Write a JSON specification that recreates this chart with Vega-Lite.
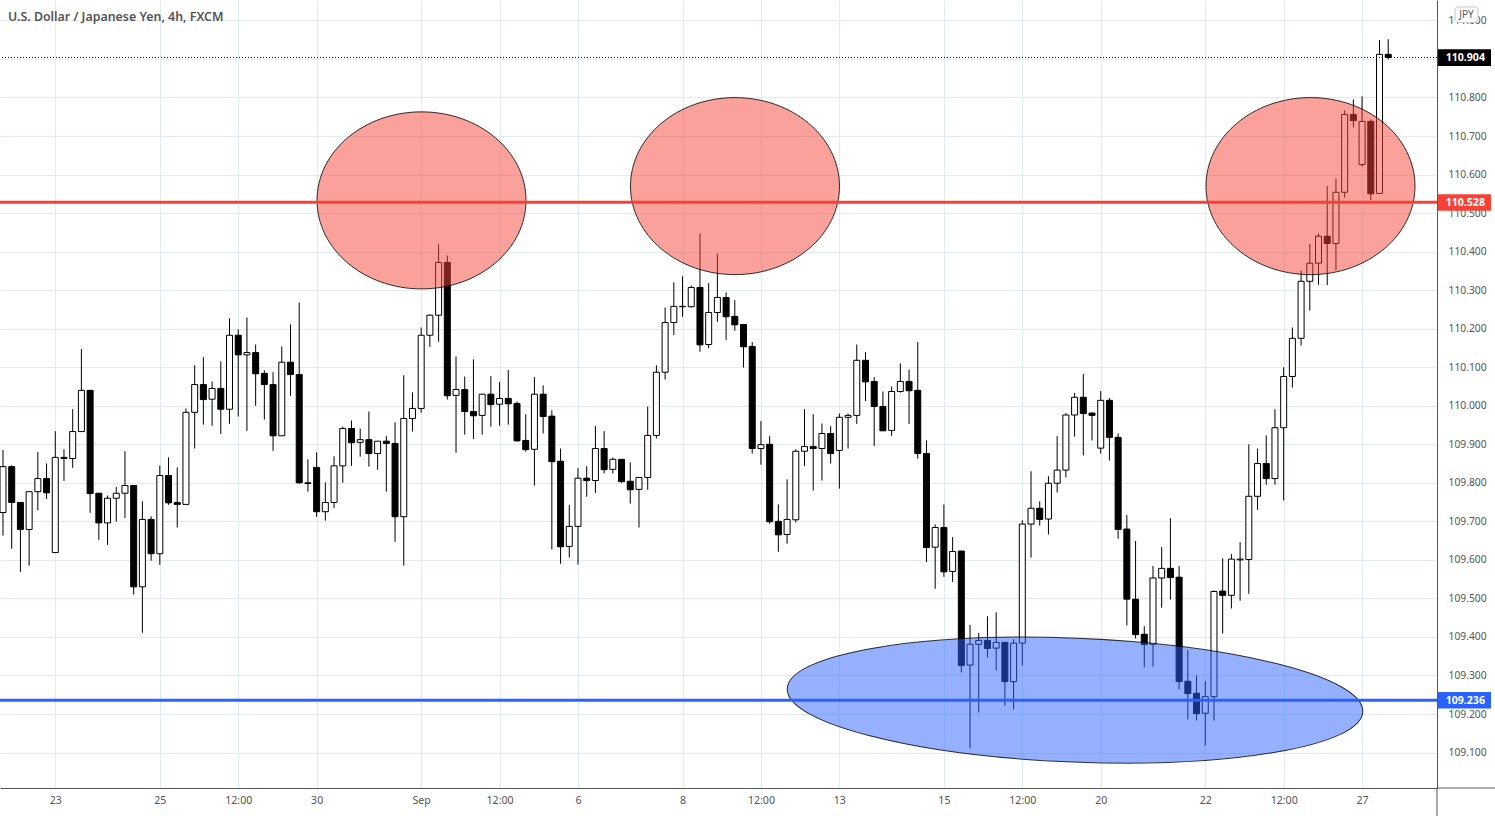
{"$schema":"https://vega.github.io/schema/vega-lite/v6.json","width":1437,"height":788,"autosize":"none","padding":{"left":0,"top":0,"right":58,"bottom":28},"background":"#ffffff","config":{"view":{"stroke":null},"font":"Noto Sans"},
"title":{"text":"U.S. Dollar / Japanese Yen, 4h, FXCM","anchor":"start","frame":"group","offset":-23,"dx":8,"fontSize":12.4,"fontWeight":600,"color":"#555555","font":"Noto Sans"},
"datasets":{"candles":[
{"i":0,"o":109.723,"h":109.885,"l":109.663,"c":109.842},{"i":1,"o":109.842,"h":109.845,"l":109.629,"c":109.749},{"i":2,"o":109.749,"h":109.749,"l":109.569,"c":109.679},{"i":3,"o":109.679,"h":109.777,"l":109.585,"c":109.777},{"i":4,"o":109.777,"h":109.880,"l":109.729,"c":109.811},{"i":5,"o":109.811,"h":109.850,"l":109.758,"c":109.774},{"i":6,"o":109.619,"h":109.934,"l":109.619,"c":109.866},{"i":7,"o":109.866,"h":109.887,"l":109.805,"c":109.863},{"i":8,"o":109.863,"h":109.991,"l":109.839,"c":109.933},{"i":9,"o":109.933,"h":110.147,"l":109.933,"c":110.040},
{"i":10,"o":110.040,"h":110.040,"l":109.722,"c":109.772},{"i":11,"o":109.773,"h":109.773,"l":109.652,"c":109.696},{"i":12,"o":109.696,"h":109.767,"l":109.639,"c":109.760},{"i":13,"o":109.760,"h":109.789,"l":109.699,"c":109.773},{"i":14,"o":109.773,"h":109.882,"l":109.709,"c":109.793},{"i":15,"o":109.793,"h":109.793,"l":109.510,"c":109.530},{"i":16,"o":109.530,"h":109.752,"l":109.411,"c":109.705},{"i":17,"o":109.705,"h":109.713,"l":109.598,"c":109.616},{"i":18,"o":109.616,"h":109.845,"l":109.587,"c":109.819},{"i":19,"o":109.819,"h":109.866,"l":109.743,"c":109.748},
{"i":20,"o":109.749,"h":109.840,"l":109.684,"c":109.744},{"i":21,"o":109.744,"h":109.993,"l":109.744,"c":109.983},{"i":22,"o":109.983,"h":110.105,"l":109.889,"c":110.055},{"i":23,"o":110.055,"h":110.126,"l":109.951,"c":110.016},{"i":24,"o":110.017,"h":110.063,"l":109.948,"c":110.045},{"i":25,"o":110.045,"h":110.115,"l":109.927,"c":109.991},{"i":26,"o":109.991,"h":110.227,"l":109.953,"c":110.183},{"i":27,"o":110.183,"h":110.198,"l":109.972,"c":110.132},{"i":28,"o":110.132,"h":110.229,"l":109.935,"c":110.138},{"i":29,"o":110.138,"h":110.159,"l":110.000,"c":110.083},
{"i":30,"o":110.084,"h":110.092,"l":109.964,"c":110.055},{"i":31,"o":110.055,"h":110.087,"l":109.883,"c":109.922},{"i":32,"o":109.922,"h":110.154,"l":109.922,"c":110.113},{"i":33,"o":110.113,"h":110.211,"l":110.026,"c":110.081},{"i":34,"o":110.081,"h":110.268,"l":109.798,"c":109.800},{"i":35,"o":109.800,"h":109.861,"l":109.777,"c":109.798},{"i":36,"o":109.840,"h":109.879,"l":109.712,"c":109.725},{"i":37,"o":109.725,"h":109.801,"l":109.702,"c":109.749},{"i":38,"o":109.749,"h":109.869,"l":109.735,"c":109.844},{"i":39,"o":109.844,"h":109.946,"l":109.800,"c":109.941},
{"i":40,"o":109.941,"h":109.962,"l":109.844,"c":109.904},{"i":41,"o":109.905,"h":109.941,"l":109.868,"c":109.912},{"i":42,"o":109.912,"h":109.985,"l":109.842,"c":109.876},{"i":43,"o":109.876,"h":109.908,"l":109.834,"c":109.908},{"i":44,"o":109.908,"h":109.921,"l":109.777,"c":109.902},{"i":45,"o":109.902,"h":109.957,"l":109.647,"c":109.712},{"i":46,"o":109.712,"h":110.079,"l":109.585,"c":109.967},{"i":47,"o":109.967,"h":110.035,"l":109.933,"c":109.993},{"i":48,"o":109.993,"h":110.203,"l":109.982,"c":110.183},{"i":49,"o":110.183,"h":110.237,"l":110.153,"c":110.235},
{"i":50,"o":110.235,"h":110.419,"l":110.166,"c":110.372},{"i":51,"o":110.372,"h":110.390,"l":110.016,"c":110.026},{"i":52,"o":110.027,"h":110.128,"l":109.878,"c":110.042},{"i":53,"o":110.042,"h":110.076,"l":109.925,"c":109.985},{"i":54,"o":109.985,"h":110.120,"l":109.914,"c":109.974},{"i":55,"o":109.975,"h":110.030,"l":109.925,"c":110.030},{"i":56,"o":110.030,"h":110.077,"l":109.946,"c":110.003},{"i":57,"o":110.004,"h":110.062,"l":109.948,"c":110.019},{"i":58,"o":110.019,"h":110.093,"l":109.951,"c":110.005},{"i":59,"o":110.006,"h":110.011,"l":109.907,"c":109.909},
{"i":60,"o":109.910,"h":109.978,"l":109.881,"c":109.886},{"i":61,"o":109.887,"h":110.074,"l":109.793,"c":110.030},{"i":62,"o":110.030,"h":110.053,"l":109.928,"c":109.972},{"i":63,"o":109.973,"h":109.988,"l":109.627,"c":109.855},{"i":64,"o":109.856,"h":109.889,"l":109.590,"c":109.634},{"i":65,"o":109.635,"h":109.742,"l":109.606,"c":109.687},{"i":66,"o":109.687,"h":109.838,"l":109.588,"c":109.812},{"i":67,"o":109.812,"h":109.843,"l":109.764,"c":109.806},{"i":68,"o":109.806,"h":109.947,"l":109.774,"c":109.889},{"i":69,"o":109.889,"h":109.934,"l":109.824,"c":109.834},
{"i":70,"o":109.835,"h":109.866,"l":109.824,"c":109.861},{"i":71,"o":109.861,"h":109.861,"l":109.799,"c":109.803},{"i":72,"o":109.804,"h":109.853,"l":109.746,"c":109.782},{"i":73,"o":109.783,"h":109.814,"l":109.684,"c":109.814},{"i":74,"o":109.814,"h":109.998,"l":109.782,"c":109.923},{"i":75,"o":109.923,"h":110.105,"l":109.915,"c":110.087},{"i":76,"o":110.087,"h":110.255,"l":110.068,"c":110.216},{"i":77,"o":110.216,"h":110.320,"l":110.184,"c":110.258},{"i":78,"o":110.257,"h":110.336,"l":110.231,"c":110.258},{"i":79,"o":110.257,"h":110.312,"l":110.255,"c":110.307},
{"i":80,"o":110.307,"h":110.447,"l":110.140,"c":110.158},{"i":81,"o":110.159,"h":110.318,"l":110.149,"c":110.242},{"i":82,"o":110.242,"h":110.395,"l":110.218,"c":110.281},{"i":83,"o":110.281,"h":110.294,"l":110.171,"c":110.231},{"i":84,"o":110.232,"h":110.274,"l":110.195,"c":110.210},{"i":85,"o":110.211,"h":110.211,"l":110.099,"c":110.153},{"i":86,"o":110.154,"h":110.165,"l":109.876,"c":109.889},{"i":87,"o":109.889,"h":109.960,"l":109.847,"c":109.899},{"i":88,"o":109.900,"h":109.921,"l":109.694,"c":109.699},{"i":89,"o":109.700,"h":109.744,"l":109.621,"c":109.665},
{"i":90,"o":109.666,"h":109.809,"l":109.642,"c":109.705},{"i":91,"o":109.704,"h":109.887,"l":109.697,"c":109.882},{"i":92,"o":109.882,"h":109.991,"l":109.844,"c":109.894},{"i":93,"o":109.894,"h":109.978,"l":109.780,"c":109.889},{"i":94,"o":109.889,"h":109.954,"l":109.806,"c":109.928},{"i":95,"o":109.928,"h":109.947,"l":109.850,"c":109.876},{"i":96,"o":109.884,"h":109.980,"l":109.785,"c":109.970},{"i":97,"o":109.970,"h":109.980,"l":109.889,"c":109.975},{"i":98,"o":109.975,"h":110.159,"l":109.953,"c":110.118},{"i":99,"o":110.118,"h":110.139,"l":110.012,"c":110.062},
{"i":100,"o":110.063,"h":110.074,"l":109.896,"c":109.998},{"i":101,"o":109.998,"h":110.037,"l":109.935,"c":109.935},{"i":102,"o":109.936,"h":110.050,"l":109.922,"c":110.037},{"i":103,"o":110.037,"h":110.110,"l":110.034,"c":110.063},{"i":104,"o":110.063,"h":110.094,"l":109.953,"c":110.039},{"i":105,"o":110.040,"h":110.165,"l":109.863,"c":109.876},{"i":106,"o":109.876,"h":109.910,"l":109.595,"c":109.632},{"i":107,"o":109.633,"h":109.692,"l":109.525,"c":109.684},{"i":108,"o":109.684,"h":109.744,"l":109.556,"c":109.569},{"i":109,"o":109.570,"h":109.659,"l":109.543,"c":109.622},
{"i":110,"o":109.623,"h":109.623,"l":109.308,"c":109.326},{"i":111,"o":109.327,"h":109.431,"l":109.111,"c":109.381},{"i":112,"o":109.381,"h":109.410,"l":109.204,"c":109.391},{"i":113,"o":109.391,"h":109.454,"l":109.347,"c":109.370},{"i":114,"o":109.371,"h":109.464,"l":109.313,"c":109.386},{"i":115,"o":109.386,"h":109.386,"l":109.222,"c":109.284},{"i":116,"o":109.284,"h":109.394,"l":109.212,"c":109.384},{"i":117,"o":109.384,"h":109.703,"l":109.326,"c":109.693},{"i":118,"o":109.693,"h":109.830,"l":109.606,"c":109.734},{"i":119,"o":109.734,"h":109.752,"l":109.689,"c":109.705},
{"i":120,"o":109.706,"h":109.817,"l":109.666,"c":109.799},{"i":121,"o":109.799,"h":109.921,"l":109.775,"c":109.833},{"i":122,"o":109.833,"h":109.981,"l":109.814,"c":109.976},{"i":123,"o":109.976,"h":110.033,"l":109.920,"c":110.022},{"i":124,"o":110.022,"h":110.082,"l":109.871,"c":109.980},{"i":125,"o":109.981,"h":109.983,"l":109.910,"c":109.975},{"i":126,"o":109.890,"h":110.038,"l":109.876,"c":110.014},{"i":127,"o":110.014,"h":110.020,"l":109.858,"c":109.918},{"i":128,"o":109.918,"h":109.928,"l":109.655,"c":109.679},{"i":129,"o":109.680,"h":109.716,"l":109.430,"c":109.498},
{"i":130,"o":109.498,"h":109.649,"l":109.396,"c":109.406},{"i":131,"o":109.407,"h":109.428,"l":109.321,"c":109.380},{"i":132,"o":109.381,"h":109.584,"l":109.323,"c":109.553},{"i":133,"o":109.553,"h":109.633,"l":109.476,"c":109.578},{"i":134,"o":109.578,"h":109.708,"l":109.497,"c":109.554},{"i":135,"o":109.555,"h":109.584,"l":109.264,"c":109.284},{"i":136,"o":109.285,"h":109.366,"l":109.186,"c":109.253},{"i":137,"o":109.254,"h":109.300,"l":109.183,"c":109.201},{"i":138,"o":109.202,"h":109.285,"l":109.118,"c":109.245},{"i":139,"o":109.245,"h":109.521,"l":109.183,"c":109.518},
{"i":140,"o":109.519,"h":109.604,"l":109.409,"c":109.508},{"i":141,"o":109.508,"h":109.615,"l":109.474,"c":109.602},{"i":142,"o":109.600,"h":109.646,"l":109.494,"c":109.602},{"i":143,"o":109.601,"h":109.900,"l":109.512,"c":109.765},{"i":144,"o":109.765,"h":109.889,"l":109.730,"c":109.850},{"i":145,"o":109.850,"h":109.923,"l":109.795,"c":109.811},{"i":146,"o":109.811,"h":109.991,"l":109.795,"c":109.943},{"i":147,"o":109.943,"h":110.100,"l":109.754,"c":110.076},{"i":148,"o":110.076,"h":110.203,"l":110.047,"c":110.175},{"i":149,"o":110.175,"h":110.351,"l":110.156,"c":110.323},
{"i":150,"o":110.323,"h":110.420,"l":110.247,"c":110.370},{"i":151,"o":110.370,"h":110.447,"l":110.314,"c":110.440},{"i":152,"o":110.440,"h":110.570,"l":110.313,"c":110.421},{"i":153,"o":110.421,"h":110.590,"l":110.352,"c":110.554},{"i":154,"o":110.554,"h":110.767,"l":110.540,"c":110.756},{"i":155,"o":110.756,"h":110.795,"l":110.722,"c":110.740},{"i":156,"o":110.626,"h":110.803,"l":110.620,"c":110.738},{"i":157,"o":110.738,"h":110.743,"l":110.534,"c":110.550},{"i":158,"o":110.551,"h":110.949,"l":110.551,"c":110.912},{"i":159,"o":110.912,"h":110.951,"l":110.899,"c":110.904}
]},
"layer":[
{"data":{"name":"candles"},"mark":{"type":"rule","color":"#000000","strokeWidth":1},"encoding":{
"x":{"field":"i","type":"quantitative","title":null,"scale":{"domain":[-0.344,164.6],"nice":false,"zero":false,"padding":0},"axis":{"values":[6,18,27,36,48,57,66,78,87,96,108,117,126,138,147,156],"labelExpr":"{6:'23',18:'25',27:'12:00',36:'30',48:'Sep',57:'12:00',66:'6',78:'8',87:'12:00',96:'13',108:'15',117:'12:00',126:'20',138:'22',147:'12:00',156:'27'}[datum.value]","grid":true,"gridColor":"#e1ecf2","gridWidth":1,"tickSize":0,"labelPadding":7,"labelFontSize":10.6,"labelColor":"#555555","labelFont":"Noto Sans","domainColor":"#555555","domainWidth":1,"labelFlush":false,"labelOverlap":false}},
"y":{"field":"l","type":"quantitative","title":null,"scale":{"domain":[109.008,111.053],"nice":false,"zero":false},"axis":{"orient":"right","values":[109.1,109.2,109.3,109.4,109.5,109.6,109.7,109.8,109.9,110.0,110.1,110.2,110.3,110.4,110.5,110.6,110.7,110.8,110.9,111.0],"format":".3f","grid":true,"gridColor":"#e1ecf2","gridWidth":1,"tickSize":0,"labelPadding":11,"labelFontSize":10.3,"labelColor":"#555555","labelFont":"Noto Sans","domainColor":"#555555","domainWidth":1,"labelOverlap":false}},
"y2":{"field":"h"}}},
{"data":{"name":"candles"},"mark":{"type":"bar","size":6,"stroke":"#000000","strokeWidth":1},"encoding":{
"x":{"field":"i","type":"quantitative","title":null},
"y":{"field":"o","type":"quantitative","title":null},
"y2":{"field":"c"},
"fill":{"condition":{"test":"datum.c>=datum.o","value":"#ffffff"},"value":"#000000"}}},
{"data":{"values":[{"i":48.04,"p":110.533,"name":"resistance 1"},{"i":84.02,"p":110.570,"name":"resistance 2"},{"i":150.08,"p":110.570,"name":"resistance 3"}]},"mark":{"type":"point","filled":true,"shape":"M-1,0C-1,-.468,-.5523,-.847,0,-.847C.5523,-.847,1,-.468,1,0C1,.468,.5523,.847,0,.847C-.5523,.847,-1,.468,-1,0Z","size":43681,"fill":"#F44336","fillOpacity":0.5,"stroke":"#000000","strokeWidth":1,"strokeOpacity":0.8,"opacity":1},"encoding":{"x":{"field":"i","type":"quantitative","title":null},"y":{"field":"p","type":"quantitative","title":null}}},
{"data":{"values":[{"i":123.05,"p":109.236,"name":"support"}]},"mark":{"type":"point","filled":true,"shape":"M-1,0C-1,-.1187,-.5523,-.215,0,-.215C.5523,-.215,1,-.1187,1,0C1,.1187,.5523,.215,0,.215C-.5523,.215,-1,.1187,-1,0Z","size":331776,"angle":2.3,"fill":"#2962FF","fillOpacity":0.5,"stroke":"#000000","strokeWidth":1,"strokeOpacity":0.8,"opacity":1},"encoding":{"x":{"field":"i","type":"quantitative","title":null},"y":{"field":"p","type":"quantitative","title":null}}},
{"data":{"values":[{"p":110.528,"col":"#F44336"},{"p":109.236,"col":"#2962FF"}]},"mark":{"type":"rule","strokeWidth":3},"encoding":{"y":{"field":"p","type":"quantitative","title":null},"color":{"field":"col","type":"nominal","scale":null}}},
{"data":{"values":[{"p":110.904}]},"mark":{"type":"rule","strokeWidth":1,"color":"#000000","strokeDash":[1,2]},"encoding":{"y":{"field":"p","type":"quantitative","title":null}}},
{"data":{"values":[{"a":164.6,"b":171.3,"p":109.008}]},"mark":{"type":"rule","strokeWidth":1,"color":"#555555"},"encoding":{"x":{"field":"a","type":"quantitative","title":null},"x2":{"field":"b"},"y":{"field":"p","type":"quantitative","title":null}}},
{"data":{"values":[{"a":164.6,"p":109.008,"q":108.935}]},"mark":{"type":"rule","strokeWidth":1,"color":"#555555"},"encoding":{"x":{"field":"a","type":"quantitative","title":null},"y":{"field":"p","type":"quantitative","title":null},"y2":{"field":"q"}}},
{"data":{"values":[{"a":164.7,"b":170.8,"lo":110.882,"hi":110.925,"col":"#000000"},{"a":164.7,"b":170.8,"lo":110.506,"hi":110.549,"col":"#F44336"},{"a":164.7,"b":170.8,"lo":109.214,"hi":109.257,"col":"#2962FF"}]},"mark":{"type":"rect"},"encoding":{"x":{"field":"a","type":"quantitative","title":null},"x2":{"field":"b"},"y":{"field":"lo","type":"quantitative","title":null},"y2":{"field":"hi"},"fill":{"field":"col","type":"nominal","scale":null}}},
{"data":{"values":[{"a":167.85,"p":110.904,"t":"110.904"},{"a":167.85,"p":110.528,"t":"110.528"},{"a":167.85,"p":109.236,"t":"109.236"}]},"mark":{"type":"text","color":"#ffffff","fontSize":10.6,"fontWeight":"bold","font":"Noto Sans","align":"center","baseline":"middle","dy":1},"encoding":{"x":{"field":"a","type":"quantitative","title":null},"y":{"field":"p","type":"quantitative","title":null},"text":{"field":"t"}}},
{"data":{"values":[{"a":166.67,"b":169.3,"lo":110.995,"hi":111.035}]},"mark":{"type":"rect","fill":"#ffffff","stroke":"#c8c8cc","strokeWidth":1,"cornerRadius":3},"encoding":{"x":{"field":"a","type":"quantitative","title":null},"x2":{"field":"b"},"y":{"field":"lo","type":"quantitative","title":null},"y2":{"field":"hi"}}},
{"data":{"values":[{"a":167.98,"p":111.015,"t":"JPY"}]},"mark":{"type":"text","color":"#555555","fontSize":10,"font":"Noto Sans","align":"center","baseline":"middle"},"encoding":{"x":{"field":"a","type":"quantitative","title":null},"y":{"field":"p","type":"quantitative","title":null},"text":{"field":"t"}}}
]}
